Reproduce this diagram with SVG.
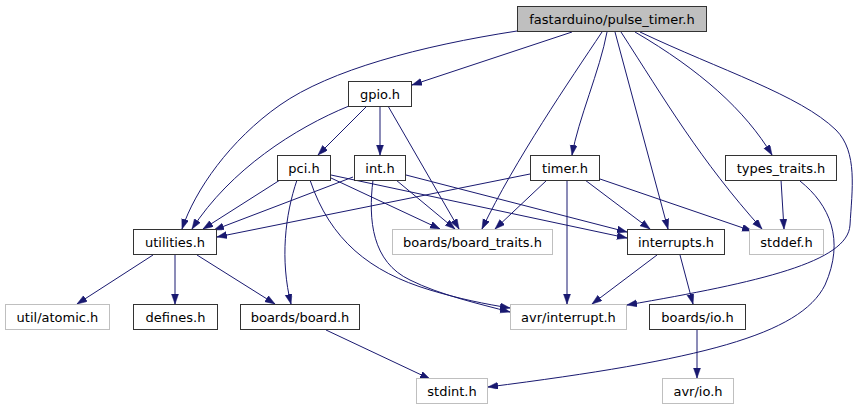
<svg xmlns="http://www.w3.org/2000/svg" width="858" height="411" viewBox="0 0 858 411">
<style>
.n rect{fill:#ffffff;stroke:#333333;stroke-width:1}
.n.g rect{stroke:#bfbfbf}
.n.top rect{fill:#bfbfbf}
.n text{font-family:"DejaVu Sans",sans-serif;font-size:13px;fill:#000000;text-anchor:middle}
#edges path{fill:none;stroke:#191970;stroke-width:1;marker-end:url(#ah)}
</style>
<defs>
<marker id="ah" markerUnits="userSpaceOnUse" markerWidth="11" markerHeight="8" refX="10" refY="3.5" orient="auto">
<path d="M0,0 L10,3.5 L0,7 z" fill="#191970" stroke="#191970" stroke-width="0.5"/>
</marker>
</defs>
<rect width="858" height="411" fill="#ffffff"/>
<g id="edges">
<path d="M517,31 C420,46 330,70 280,105 C230,140 195,190 182,229"/>
<path d="M572,32 L412,85"/>
<path d="M602,32 C570,80 515,160 482,229"/>
<path d="M607,32 C600,70 578,120 572,155"/>
<path d="M615,32 L668,229"/>
<path d="M621,32 C665,100 700,160 762,229"/>
<path d="M635,32 C700,70 745,110 772,155"/>
<path d="M640,32 C720,70 800,95 836,130 C858,152 852,190 850,225 C848,262 760,282 627,305"/>
<path d="M349,106 C295,128 230,170 192,229"/>
<path d="M367,106 L318,155"/>
<path d="M380,106 L380,155"/>
<path d="M388,106 L459,229"/>
<path d="M280,180 L203,229"/>
<path d="M297,180 C285,215 280,260 291,304"/>
<path d="M310,180 C330,240 370,272 430,290 C460,299 485,304 510,308"/>
<path d="M331,178 L440,229"/>
<path d="M331,175 L627,238"/>
<path d="M353,177 L214,230"/>
<path d="M373,180 C368,220 372,262 410,280 C440,295 480,304 510,312"/>
<path d="M396,180 L455,229"/>
<path d="M406,175 L627,232"/>
<path d="M530,174 L217,237"/>
<path d="M547,180 L495,229"/>
<path d="M567,180 L567,304"/>
<path d="M585,180 L650,229"/>
<path d="M600,179 L752,231"/>
<path d="M781,180 L784,229"/>
<path d="M800,181 C830,205 845,240 825,285 C800,335 700,360 488,387"/>
<path d="M153,255 L77,304"/>
<path d="M175,255 L175,304"/>
<path d="M197,255 L275,304"/>
<path d="M326,330 L430,379"/>
<path d="M657,255 L592,304"/>
<path d="M680,255 L693,304"/>
<path d="M697,330 L697,378"/>
</g>
<g id="pulse_timer" class="n top"><rect x="517.5" y="6.5" width="189" height="25"/><text x="612" y="23.5">fastarduino/pulse_timer.h</text></g>
<g id="gpio" class="n"><rect x="348.5" y="81.5" width="63" height="25"/><text x="380" y="98.5">gpio.h</text></g>
<g id="pci" class="n"><rect x="277.5" y="155.5" width="53" height="25"/><text x="304" y="172.5">pci.h</text></g>
<g id="int" class="n"><rect x="354.5" y="155.5" width="51" height="25"/><text x="380" y="172.5">int.h</text></g>
<g id="timer" class="n"><rect x="530.5" y="155.5" width="69" height="25"/><text x="565" y="172.5">timer.h</text></g>
<g id="types_traits" class="n"><rect x="725.5" y="155.5" width="111" height="25"/><text x="781" y="172.5">types_traits.h</text></g>
<g id="utilities" class="n"><rect x="133.5" y="229.5" width="83" height="25"/><text x="175" y="246.5">utilities.h</text></g>
<g id="board_traits" class="n g"><rect x="392.5" y="229.5" width="160" height="25"/><text x="472.5" y="246.5">boards/board_traits.h</text></g>
<g id="interrupts" class="n"><rect x="627.5" y="229.5" width="97" height="25"/><text x="676" y="246.5">interrupts.h</text></g>
<g id="stddef" class="n g"><rect x="749.5" y="229.5" width="74" height="25"/><text x="786.5" y="246.5">stddef.h</text></g>
<g id="atomic" class="n g"><rect x="5.5" y="304.5" width="104" height="25"/><text x="57.5" y="321.5">util/atomic.h</text></g>
<g id="defines" class="n"><rect x="133.5" y="304.5" width="84" height="25"/><text x="175.5" y="321.5">defines.h</text></g>
<g id="board" class="n"><rect x="240.5" y="304.5" width="119" height="25"/><text x="300" y="321.5">boards/board.h</text></g>
<g id="avr_interrupt" class="n g"><rect x="510.5" y="304.5" width="116" height="25"/><text x="568.5" y="321.5">avr/interrupt.h</text></g>
<g id="boards_io" class="n"><rect x="649.5" y="304.5" width="96" height="25"/><text x="697.5" y="321.5">boards/io.h</text></g>
<g id="stdint" class="n g"><rect x="416.5" y="378.5" width="71" height="25"/><text x="452" y="395.5">stdint.h</text></g>
<g id="avr_io" class="n g"><rect x="662.5" y="378.5" width="71" height="25"/><text x="698" y="395.5">avr/io.h</text></g>
</svg>
